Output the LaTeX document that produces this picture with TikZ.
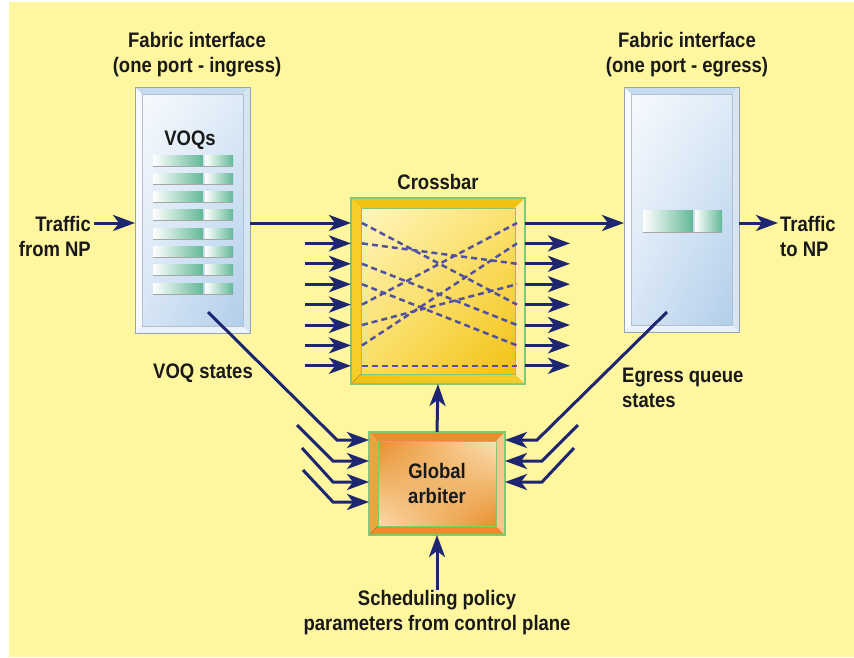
\documentclass[tikz,border=0pt]{standalone}
\usepackage{fontspec}
\setmainfont{Liberation Sans}[FakeStretch=0.88]
\usetikzlibrary{arrows.meta,calc,shadings}

\definecolor{bg}{RGB}{255,246,160}
\definecolor{navy}{RGB}{30,38,112}
\definecolor{dashc}{RGB}{82,80,160}
\definecolor{rim}{RGB}{130,200,118}
\definecolor{qgreen}{RGB}{98,184,150}
% fabric interface
\definecolor{fabA}{RGB}{247,250,254}
\definecolor{fabB}{RGB}{222,235,247}
\definecolor{fabC}{RGB}{214,229,245}
\definecolor{fabD}{RGB}{178,206,234}
\definecolor{fabT}{RGB}{198,219,240}
\definecolor{fabE}{RGB}{234,242,250}
\definecolor{fabL}{RGB}{150,162,182}
% crossbar
\definecolor{gold}{RGB}{242,194,18}
\definecolor{goldA}{RGB}{255,246,190}
\definecolor{goldB}{RGB}{252,226,112}
\definecolor{goldC}{RGB}{250,222,100}
\definecolor{goldL}{RGB}{246,206,42}
\definecolor{goldM}{RGB}{255,242,178}
\definecolor{goldR}{RGB}{255,240,158}
% arbiter
\definecolor{orng}{RGB}{232,142,42}
\definecolor{orngL}{RGB}{240,162,62}
\definecolor{orngM}{RGB}{250,214,160}
\definecolor{orngR}{RGB}{247,198,138}
\definecolor{orngA}{RGB}{252,226,182}
\definecolor{orngB}{RGB}{250,220,172}

% #1 node, #2 depth, #3 top, #4 left, #5 bottom, #6 right, #7 edge
\newcommand{\bevel}[7]{%
  \coordinate (bnw) at ($(#1.north west)+(#2,#2)$);
  \coordinate (bse) at ($(#1.south east)+(-#2,-#2)$);
  \fill[#3] (#1.north west) -- (#1.north east) -- (bse |- bnw) -- (bnw) -- cycle;
  \fill[#4] (#1.north west) -- (bnw) -- (bnw |- bse) -- (#1.south west) -- cycle;
  \fill[#5] (#1.south west) -- (bnw |- bse) -- (bse) -- (#1.south east) -- cycle;
  \fill[#6] (#1.north east) -- (bse |- bnw) -- (bse) -- (#1.south east) -- cycle;
  \draw[#7] (#1.north west) rectangle (#1.south east);
}
% queue bar: x, y, first part, second part, height
\newcommand{\qbar}[5]{%
  \shade[left color=white, right color=qgreen] (#1,#2) rectangle ++(#3,#5);
  \shade[left color=white, right color=qgreen] (#1+#3+2,#2) rectangle ++(#4,#5);
  \draw[black!35, line width=1pt] (#1,#2+#5) -- ++(#3+#4+2,0);
}

\begin{document}
\begin{tikzpicture}[x=1pt, y=-1pt,
  font=\fontsize{21}{25}\selectfont\bfseries,
  flow/.style={draw=navy, line width=3pt, -{Stealth[length=22pt,width=16pt,inset=6pt]}},
  link/.style={draw=dashc, line width=2.5pt, dash pattern=on 6pt off 4pt},
  frame/.style={inner sep=0pt, outer sep=0pt},
  lbl/.style={inner sep=0pt, text=black!90}]
\fill[white] (0,0) rectangle (854,657);
\fill[bg] (9,2) rectangle (854,657);
\useasboundingbox (0,0) rectangle (854,657);

\node[frame, minimum width=115pt, minimum height=246pt] (ing) at (192.5,210) {};
\node[frame, minimum width=115pt, minimum height=245pt] (eg) at (681.5,209.5) {};
\node[frame, minimum width=174pt, minimum height=186pt] (xbar) at (438,291) {};
\node[frame, minimum width=136pt, minimum height=103pt] (arb) at (437,483.5) {};

% fabric interfaces
\foreach \f in {ing,eg} {
  \bevel{\f}{7}{fill=fabT}{fill=fabA}{fill=fabE}{fill=fabC}{draw=fabL, line width=1pt}
  \shade[upper left=fabA, upper right=fabB, lower left=fabC, lower right=fabD] (bnw) rectangle (bse);
  \draw[fabL!70, line width=0.6pt] (bnw) rectangle (bse);
}
\foreach \k in {0,...,7} {
  \qbar{153}{155+18.3*\k}{50}{28}{11}
}
\qbar{643}{210}{50}{27}{22}

% crossbar
\bevel{xbar}{10}{fill=gold}{fill=goldL}{left color=gold, middle color=goldM, right color=goldL}%
  {fill=goldR}{draw=rim, line width=1.5pt}
\shade[upper left=goldA, upper right=goldB, lower left=goldC, lower right=gold] (bnw) rectangle (bse);
\draw[rim, line width=1pt] (bnw) rectangle (bse);

% arbiter
\bevel{arb}{9}{fill=orng}{fill=orngL}{left color=orng, middle color=orngM, right color=orng}%
  {fill=orngR}{draw=rim, line width=1.5pt}
\shade[upper left=orng, upper right=orngA, lower left=orngB, lower right=orng] (bnw) rectangle (bse);
\draw[rim, line width=1pt] (bnw) rectangle (bse);

% labels
\node[lbl, align=center] (fabin) at (197,55) {Fabric interface\\(one port - ingress)};
\node[lbl, align=center] (fabout) at (687,55) {Fabric interface\\(one port - egress)};
\node[lbl] (voqlbl) at (190,140) {VOQs};
\node[lbl] (xlbl) at (438,182) {Crossbar};
\node[lbl, align=right, anchor=east] (trin) at (91,236.5) {Traffic\\from NP};
\node[lbl, align=left, anchor=west] (trout) at (780,236.5) {Traffic\\to NP};
\node[lbl] (voqst) at (203,373) {VOQ states};
\node[lbl, align=left, anchor=west] (egst) at (622,387.5) {Egress queue\\states};
\node[lbl, align=center] (arbtxt) at (437,483) {Global\\arbiter};
\node[lbl, align=center] (policy) at (437,612.5) {Scheduling policy\\parameters from control plane};

% traffic path
\coordinate (tin) at (94,223);
\coordinate (tout) at (778,223);
\draw[flow] (tin) -- (tin -| ing.west);
\draw[flow] (ing.east |- tin) -- (tin -| xbar.west);
\draw[flow] (xbar.east |- tin) -- (tin -| eg.west);
\draw[flow] (eg.east |- tin) -- (tout);

% crossbar ports
\foreach \k in {0,...,7} {
  \coordinate (p\k) at (362,223+20.4*\k);
  \coordinate (q\k) at (517,223+20.4*\k);
}
\foreach \k in {1,...,7} {
  \coordinate (in\k) at (305,223+20.4*\k);
  \coordinate (out\k) at (570,223+20.4*\k);
  \draw[flow] (in\k) -- (in\k -| xbar.west);
  \draw[flow] (out\k -| xbar.east) -- (out\k);
}
\foreach \a/\b in {0/4,1/2,2/5,3/6,4/0,5/3,6/1,7/7}
  \draw[link] (p\a) -- (q\b);

% arbiter inputs
\draw[flow] (arb.north) -- (xbar.south);
\draw[flow] (policy.north) -- (arb.south);
\foreach \sx/\sy/\bx/\by in {208/312/337/440, 297/425/333/461, 302/448/333/482, 303/470/333/502} {
  \coordinate (ls) at (\sx,\sy);
  \coordinate (lb) at (\bx,\by);
  \draw[flow] (ls) -- (lb) -- (lb -| arb.west);
}
\foreach \sx/\sy/\bx/\by in {667/312/537/440, 578/425/542/461, 574/448/542/482} {
  \coordinate (rs) at (\sx,\sy);
  \coordinate (rb) at (\bx,\by);
  \draw[flow] (rs) -- (rb) -- (rb -| arb.east);
}
\end{tikzpicture}
\end{document}
